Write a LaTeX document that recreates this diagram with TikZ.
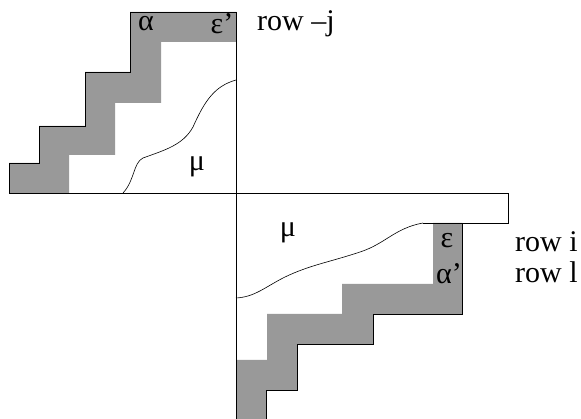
\documentclass[tikz,border=0pt]{standalone}
\usepackage{fontspec}
\setmainfont{Liberation Serif}
\usepackage{tikz}
\definecolor{cellgray}{gray}{0.6}

\begin{document}
\begin{tikzpicture}[x=1pt,y=-1pt,
    lbl/.style={font=\fontsize{30}{33}\selectfont,inner sep=0pt},
    rowlbl/.style={lbl,anchor=west}]
  \useasboundingbox (0,0) rectangle (581,419);
  % upper left staircase
  \fill[cellgray] (130,12) -- (236,12) -- (236,42) -- (161,42) -- (161,103)
    -- (115,103) -- (115,155) -- (69,155) -- (69,193) -- (9,193) -- (9,163)
    -- (39,163) -- (39,126) -- (85,126) -- (85,72) -- (130,72) -- cycle;
  \draw[thick] (236,12) -- (130,12) -- (130,72) -- (85,72) -- (85,126)
    -- (39,126) -- (39,163) -- (9,163) -- (9,193);
  % lower right staircase
  \fill[cellgray] (433,223) -- (462,223) -- (462,314) -- (373,314) -- (373,344)
    -- (297,344) -- (297,390) -- (266,390) -- (266,419) -- (236,419) -- (236,360)
    -- (267,360) -- (267,314) -- (342,314) -- (342,284) -- (433,284) -- cycle;
  \draw[thick] (462,223) -- (462,314) -- (373,314) -- (373,344) -- (297,344)
    -- (297,390) -- (266,390) -- (266,419);
  % axes
  \coordinate (top) at (236,12);
  \coordinate (bot) at (236,419);
  \coordinate (left) at (9,193);
  \coordinate (tip) at (508,193);
  \draw (top) -- (bot);
  \draw (left) -- (tip) -- (508,223) -- (423,223);
  % boundaries of mu
  \draw[semithick] (236,80) .. controls (215,86) and (205,100) .. (193,127)
    .. controls (183,145) and (165,150) .. (143,158)
    .. controls (133,163) and (135,180) .. (123,193);
  \draw[semithick] (236,298) .. controls (255,297) and (265,287) .. (285,277)
    .. controls (310,265) and (330,262) .. (360,252)
    .. controls (385,244) and (395,228) .. (423,223);
  % labels
  \node[lbl] (a1) at (146,24) {α};
  \node[lbl] (e1) at (222,24) {ε’};
  \node[rowlbl] (rj) at (257,24) {row –j};
  \node[lbl] (mu1) at (197,167) {μ};
  \node[lbl] (mu2) at (288,233) {μ};
  \node[lbl] (e2) at (447,241) {ε};
  \node[lbl] (a2) at (449,274) {α’};
  \node[rowlbl] (ri) at (515,242) {row i};
  \node[rowlbl] (rl) at (515,272) {row l};
\end{tikzpicture}
\end{document}
